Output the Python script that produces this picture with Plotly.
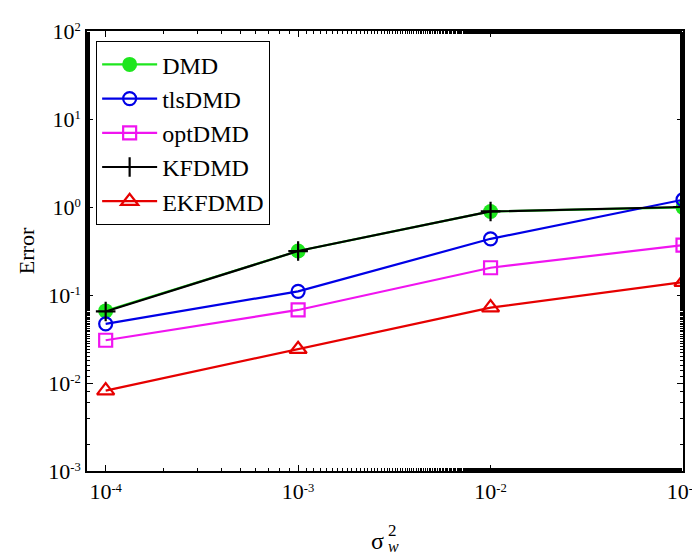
import plotly.graph_objects as go

sigma2 = [1e-4, 1e-3, 1e-2, 1e-1]
dmd = [0.066, 0.316, 0.89, 0.99]
tlsdmd = [0.047, 0.110, 0.435, 1.21]
optdmd = [0.0306, 0.0676, 0.204, 0.369]
kfdmd = [0.065, 0.316, 0.89, 1.0]
ekfdmd = [0.0082, 0.0242, 0.0718, 0.140]

x_ticks = [1e-4, 1e-3, 1e-2, 1e-1]
x_exponents = ["-4", "-3", "-2", "-1"]
y_ticks = [1e-3, 1e-2, 1e-1, 1e0, 1e1, 1e2]
y_exponents = ["-3", "-2", "-1", "0", "1", "2"]

FONT = "Liberation Serif, Times New Roman, serif"


def pow_label(e):
    return "10<span style='font-size:18px'><sup>" + e + "</sup></span>"


series = [
    ("DMD", dmd, "#1EE61E", dict(symbol="circle", size=15, color="#1EE61E", line=dict(width=0))),
    ("tlsDMD", tlsdmd, "#0000E6", dict(symbol="circle-open", size=13, color="#0000E6", line=dict(width=2.2))),
    ("optDMD", optdmd, "#F014F0", dict(symbol="square-open", size=13, color="#F014F0", line=dict(width=2.2))),
    ("KFDMD", kfdmd, "#000000", dict(symbol="cross-thin-open", size=14, color="#000000", line=dict(width=2.2))),
    ("EKFDMD", ekfdmd, "#E60000", dict(symbol="triangle-up-open", size=15, color="#E60000", line=dict(width=2.2))),
]

fig = go.Figure()
for name, vals, col, mk in series:
    fig.add_trace(go.Scatter(x=sigma2, y=vals, name=name, mode="lines+markers",
                             line=dict(color=col, width=2.2), marker=mk))

axis_common = dict(
    type="log", showgrid=False, zeroline=False, showline=True, linecolor="black", linewidth=1.5,
    mirror="allticks", ticks="inside", ticklen=6, tickwidth=1.2, tickcolor="black",
    tickfont=dict(family=FONT, size=22, color="black"), automargin=False,
    minor=dict(ticks="inside", ticklen=3, tickwidth=1, tickcolor="black", showgrid=False),
)

fig.update_xaxes(range=[-4.097, -1], tickvals=x_ticks,
                 ticktext=[pow_label(e) for e in x_exponents], **axis_common)
fig.update_yaxes(range=[-3, 2], tickvals=y_ticks,
                 ticktext=[pow_label(e) for e in y_exponents],
                 title=dict(text="Error", font=dict(family=FONT, size=22, color="black"), standoff=8),
                 **axis_common)

# x-axis label: sigma with stacked superscript 2 and subscript w
fig.add_annotation(xref="paper", yref="paper", x=0.488, y=-0.158, text="σ", showarrow=False,
                   xanchor="center", yanchor="middle", font=dict(family=FONT, size=24, color="black"))
fig.add_annotation(xref="paper", yref="paper", x=0.501, y=-0.135, text="2", showarrow=False,
                   xanchor="left", yanchor="middle", font=dict(family=FONT, size=17, color="black"))
fig.add_annotation(xref="paper", yref="paper", x=0.502, y=-0.172, text="<i>w</i>", showarrow=False,
                   xanchor="left", yanchor="middle", font=dict(family=FONT, size=16, color="black"))

fig.update_layout(
    width=700, height=555,
    margin=dict(l=79, r=25, t=23, b=92),
    paper_bgcolor="white", plot_bgcolor="white",
    font=dict(family=FONT, color="black"),
    legend=dict(x=0.015, y=0.977, xanchor="left", yanchor="top",
                bordercolor="black", borderwidth=1.2, bgcolor="white",
                font=dict(family=FONT, size=24, color="black"),
                tracegroupgap=0, itemwidth=55),
    showlegend=True,
)

fig.write_html("out.html")
